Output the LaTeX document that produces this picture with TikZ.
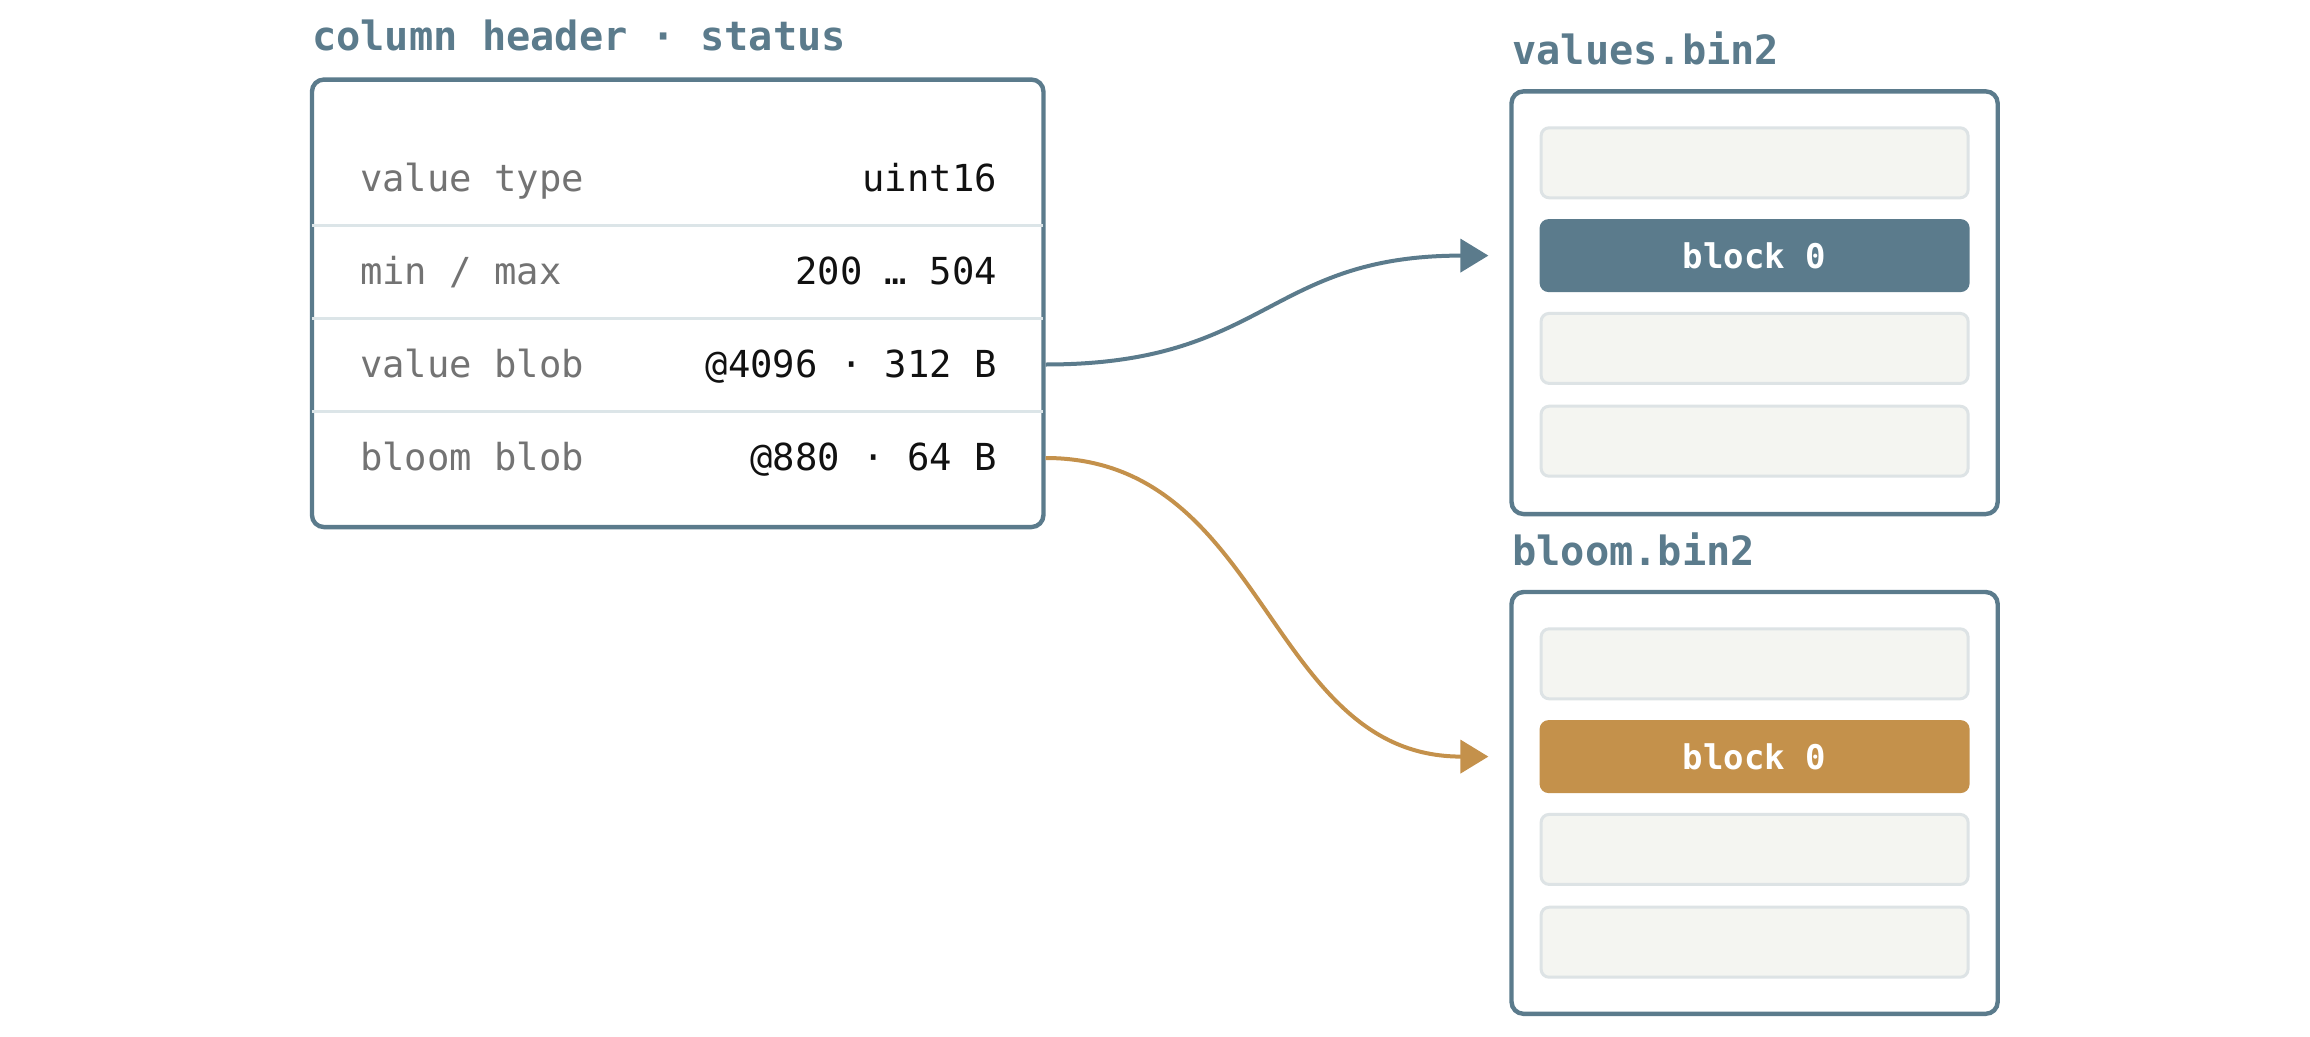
\documentclass[tikz,border=0pt]{standalone}
\usepackage{fontspec}
\setmonofont{DejaVu Sans Mono}
\usetikzlibrary{arrows.meta}
\definecolor{slate}{HTML}{5B7B8C}
\definecolor{ochre}{HTML}{C4914B}
\definecolor{blockbg}{HTML}{F4F5F1}
\definecolor{blockbd}{HTML}{DDE3E5}
\definecolor{sepc}{HTML}{DCE5E8}
\definecolor{labgray}{HTML}{737373}
\definecolor{valblack}{HTML}{111111}
\begin{document}
\begin{tikzpicture}[x=1pt,y=-1pt,
  frame/.style={draw=slate, line width=4.4pt, rounded corners=12pt, fill=white, inner sep=0pt},
  ttl/.style={anchor=base west, inner sep=0pt, text=slate, font=\ttfamily\bfseries\fontsize{40.3}{48}\selectfont},
  lab/.style={anchor=base west, inner sep=0pt, text=labgray, font=\ttfamily\fontsize{37.2}{44}\selectfont},
  val/.style={anchor=base east, inner sep=0pt, text=valblack, font=\ttfamily\fontsize{37.2}{44}\selectfont},
  blk/.style={draw=blockbd, line width=3pt, fill=blockbg, rounded corners=8pt, minimum width=427pt, minimum height=70pt, inner sep=0pt},
  hot/.style={fill=#1, rounded corners=9pt, minimum width=430pt, minimum height=73pt, inner sep=0pt, text=white, font=\ttfamily\bfseries\fontsize{34}{40}\selectfont},
  conn/.style={line width=4pt, -{Triangle[length=28pt,width=33pt]}},
  sepline/.style={draw=sepc, line width=3pt}
]
\useasboundingbox (0,0) rectangle (2310,1036);

% left header box
\node[ttl] (t1) at (312,50.5) {column header · status};
\node[frame, minimum width=731.5pt, minimum height=447.5pt] (hdr) at (677.7,303.3) {};

\coordinate (s1) at (0,225.4);
\coordinate (s2) at (0,318.4);
\coordinate (s3) at (0,411.4);
\draw[sepline] ([xshift=2.2pt]hdr.west |- s1) -- ([xshift=-2.2pt]hdr.east |- s1);
\draw[sepline] ([xshift=2.2pt]hdr.west |- s2) -- ([xshift=-2.2pt]hdr.east |- s2);
\draw[sepline] ([xshift=2.2pt]hdr.west |- s3) -- ([xshift=-2.2pt]hdr.east |- s3);

\node[lab] (l1) at (360,191.7) {value type};
\node[lab] (l2) at (360,284.7) {min / max};
\node[lab] (l3) at (360,377.7) {value blob};
\node[lab] (l4) at (360,470.7) {bloom blob};
\node[val] (v1) at (997,191.7) {uint16};
\node[val] (v2) at (997,284.7) {200 … 504};
\node[val] (v3) at (997,377.7) {@4096 · 312 B};
\node[val] (v4) at (997,470.7) {@880 · 64 B};

% values.bin2
\node[ttl] (t2) at (1512,64.3) {values.bin2};
\node[frame, minimum width=486.2pt, minimum height=422.7pt] (vbox) at (1754.6,302.7) {};
\node[blk] (va1) at (1754.6,162.8) {};
\node[hot=slate] (va2) at (1754.6,255.6) {block 0};
\node[blk] (va3) at (1754.6,348.4) {};
\node[blk] (va4) at (1754.6,441.2) {};

% bloom.bin2
\node[ttl] (t3) at (1512,565) {bloom.bin2};
\node[frame, minimum width=486.2pt, minimum height=421.8pt] (bbox) at (1754.6,802.9) {};
\node[blk] (bb1) at (1754.6,663.8) {};
\node[hot=ochre] (bb2) at (1754.6,756.6) {block 0};
\node[blk] (bb3) at (1754.6,849.4) {};
\node[blk] (bb4) at (1754.6,942.2) {};

% connectors
\coordinate (r3) at (0,364.5);
\coordinate (r4) at (0,458);
\draw[conn, slate] (hdr.east |- r3) .. controls +(222,0) and +(-222,0) .. ([xshift=-51pt]va2.west);
\draw[conn, ochre] (hdr.east |- r4) .. controls +(222,0) and +(-222,0) .. ([xshift=-51pt]bb2.west);
\end{tikzpicture}
\end{document}
